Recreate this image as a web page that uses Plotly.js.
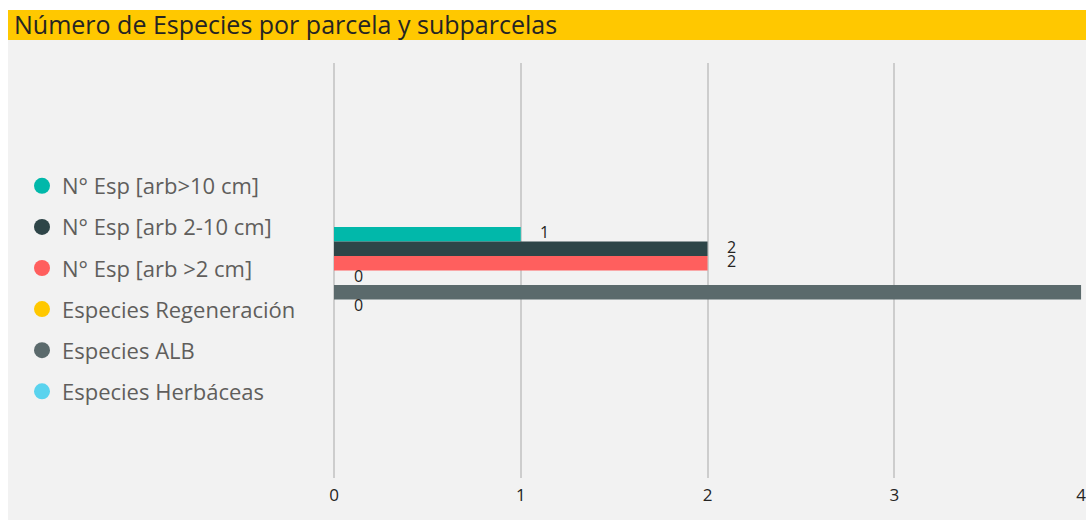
<!DOCTYPE html>
<html>
<head>
<meta charset="utf-8">
<script src="https://cdn.plot.ly/plotly-3.0.1.min.js"></script>
<style>
  html, body { margin: 0; padding: 0; background: #ffffff; overflow: hidden; width: 1086px; height: 520px; }
  #wrap { position: absolute; left: 8px; top: 10px; width: 1096px; height: 510px; }
</style>
</head>
<body>
<div id="wrap"><div id="chart"></div></div>
<script>
// ---- data ----
const categories = ['Parcela'];
const seriesNames = [
  'N° Esp [arb>10 cm]',
  'N° Esp [arb 2-10 cm]',
  'N° Esp [arb >2 cm]',
  'Especies Regeneración',
  'Especies ALB',
  'Especies Herbáceas'
];
const seriesValues = [1, 2, 2, 0, 4, 0];
const xTickValues = [0, 1, 2, 3, 4];
const xTickLabels = ['0', '1', '2', '3', '4'];
const chartTitle = 'Número de Especies por parcela y subparcelas';

// ---- style ----
const colors = ['#01B8AA', '#2E4548', '#FF5F5E', '#FFC800', '#5B6A6C', '#5AD3EE'];
const W = 1096, H = 510;
const margin = {l: 326, r: 22, t: 53, b: 42};
const bargap = 0.79;
const plotW = W - margin.l - margin.r;
const plotH = H - margin.t - margin.b;
const barPx = plotH * (1 - bargap) / seriesNames.length;
const font = '"Segoe UI", "Open Sans", "Noto Sans", sans-serif';

const traces = [];
seriesNames.forEach((name, i) => {
  traces.push({
    type: 'bar',
    orientation: 'h',
    name: name,
    x: [seriesValues[i]],
    y: categories,
    marker: {color: colors[i]},
    showlegend: false,
    legendgroup: 'g' + i,
    hoverinfo: 'x+name'
  });
  traces.push({
    type: 'scatter',
    mode: 'markers',
    name: name,
    x: [null],
    y: [null],
    marker: {color: colors[i], size: 16, symbol: 'circle'},
    legendgroup: 'g' + i,
    showlegend: true,
    hoverinfo: 'skip'
  });
});

const annotations = seriesValues.map((v, i) => ({
  x: v,
  y: categories[0],
  xref: 'x',
  yref: 'y',
  text: String(v),
  showarrow: false,
  xanchor: 'center',
  yanchor: 'middle',
  xshift: 24,
  yshift: ((seriesNames.length - 1) / 2 - i) * barPx + 2,
  font: {family: font, size: 16, color: '#252423'}
}));

const layout = {
  width: W,
  height: H,
  margin: margin,
  paper_bgcolor: '#F2F2F2',
  plot_bgcolor: '#F2F2F2',
  barmode: 'group',
  bargap: bargap,
  font: {family: font, color: '#252423'},
  title: {
    text: chartTitle,
    xref: 'container', x: 6 / W, xanchor: 'left',
    yref: 'container', y: 1 - 15 / H, yanchor: 'middle',
    font: {family: font, size: 25, color: '#252423'}
  },
  shapes: [{
    type: 'rect', layer: 'below',
    xref: 'paper', yref: 'paper',
    x0: -margin.l / plotW, x1: 1 + margin.r / plotW,
    y0: 1 + (margin.t - 30) / plotH, y1: 1 + margin.t / plotH,
    fillcolor: '#FFC800', line: {width: 0}
  }],
  xaxis: {
    range: [0, 4.005],
    tickmode: 'array',
    tickvals: xTickValues,
    ticktext: xTickLabels,
    showgrid: true,
    gridcolor: '#CDCDCD',
    gridwidth: 1.5,
    zeroline: true,
    zerolinecolor: '#CDCDCD',
    zerolinewidth: 1.5,
    showline: false,
    ticks: '',
    ticklabelstandoff: 5,
    tickfont: {family: font, size: 17, color: '#252423'},
    fixedrange: true
  },
  yaxis: {
    type: 'category',
    autorange: 'reversed',
    showticklabels: false,
    showgrid: false,
    zeroline: false,
    fixedrange: true
  },
  legend: {
    xref: 'container', x: 14 / W, xanchor: 'left',
    yref: 'container', y: 1 - 155 / H, yanchor: 'top',
    bgcolor: 'rgba(0,0,0,0)',
    font: {family: font, size: 22, color: '#605E5C'},
    traceorder: 'grouped',
    tracegroupgap: 9.5
  },
  annotations: annotations,
  showlegend: true
};

Plotly.newPlot('chart', traces, layout, {displayModeBar: false});
</script>
</body>
</html>
